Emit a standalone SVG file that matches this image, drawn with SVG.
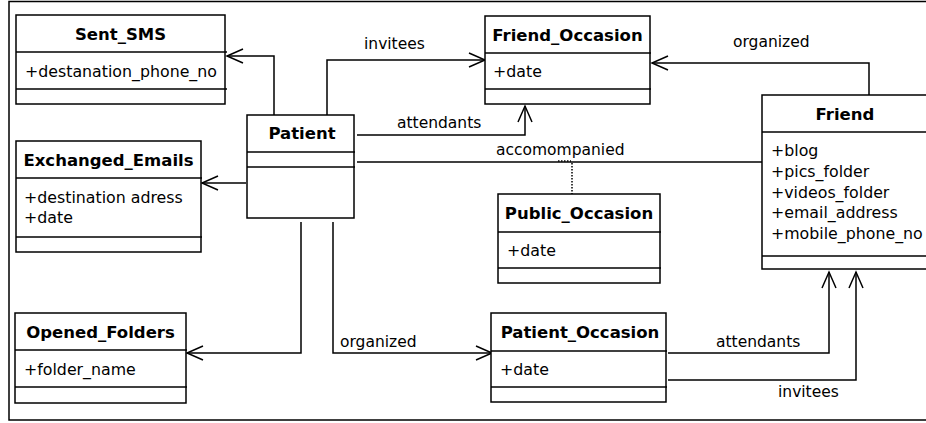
<svg xmlns="http://www.w3.org/2000/svg" width="926" height="423" viewBox="0 0 926 423">
  <style>
    .box { fill: #ffffff; stroke: #000000; stroke-width: 1.5; }
    .div { stroke: #000000; stroke-width: 1.5; }
    .title { font-family: "DejaVu Sans", Verdana, sans-serif; font-size: 16.5px; font-weight: bold; text-anchor: middle; fill: #000000; }
    .attr { font-family: "DejaVu Sans", Verdana, sans-serif; font-size: 15.8px; fill: #000000; }
    .label { font-family: "DejaVu Sans", Verdana, sans-serif; font-size: 15.5px; fill: #000000; }
    .edge { fill: none; stroke: #000000; stroke-width: 1.5; }
    .nav { marker-end: url(#open); }
    .dot { fill: none; stroke: #000000; stroke-width: 1.5; stroke-dasharray: 1.5 1.5; }
  </style>
  <defs>
    <marker id="open" markerUnits="userSpaceOnUse" markerWidth="18" markerHeight="16" refX="16" refY="7" orient="auto" overflow="visible">
      <path d="M0,0 L16,7 L0,14" fill="none" stroke="#000000" stroke-width="1.5"/>
    </marker>
  </defs>

  <!-- frame -->
  <rect x="9" y="1.5" width="930" height="418.5" fill="#ffffff" stroke="#000000" stroke-width="1.5"/>

  <!-- associations -->
  <g id="connectors">
    <path class="edge nav" d="M274,115 V56 H227"/>
    <path class="edge nav" d="M246,183 H202"/>
    <path class="edge nav" d="M301,222 V353 H187"/>
    <path class="edge nav" d="M333,222 V353 H492"/>
    <path class="edge nav" d="M327,115 V60 H485"/>
    <path class="edge nav" d="M357,135 H525 V106"/>
    <path class="edge" d="M357,162 H762"/>
    <path class="dot" d="M572,163 V194"/>
    <path class="dot" d="M558,161 H571"/>
    <path class="edge nav" d="M869,95 V63 H652"/>
    <path class="edge nav" d="M668,353 H829 V272"/>
    <path class="edge nav" d="M668,380 H856 V272"/>
    <text class="label" x="364" y="49">invitees</text>
    <text class="label" x="397" y="128">attendants</text>
    <text class="label" x="496" y="155">accomompanied</text>
    <text class="label" x="733" y="47">organized</text>
    <text class="label" x="340" y="347">organized</text>
    <text class="label" x="716" y="347">attendants</text>
    <text class="label" x="778" y="397">invitees</text>
  </g>

  <g id="Sent_SMS">
    <rect class="box" x="16" y="15" width="209" height="89"/>
    <line class="div" x1="16" y1="52" x2="227" y2="52"/>
    <line class="div" x1="16" y1="89" x2="227" y2="89"/>
    <text class="title" x="120.5" y="40">Sent_SMS</text>
    <text class="attr" x="25" y="77">+destanation_phone_no</text>
  </g>

  <g id="Exchanged_Emails">
    <rect class="box" x="16" y="141" width="185" height="111"/>
    <line class="div" x1="16" y1="178" x2="202" y2="178"/>
    <line class="div" x1="16" y1="237" x2="202" y2="237"/>
    <text class="title" x="108.5" y="166">Exchanged_Emails</text>
    <text class="attr" x="24" y="203">+destination adress</text>
    <text class="attr" x="24" y="223">+date</text>
  </g>

  <g id="Opened_Folders">
    <rect class="box" x="15" y="313" width="171" height="90"/>
    <line class="div" x1="15" y1="350" x2="187" y2="350"/>
    <line class="div" x1="15" y1="387" x2="187" y2="387"/>
    <text class="title" x="100.5" y="338">Opened_Folders</text>
    <text class="attr" x="24" y="375">+folder_name</text>
  </g>

  <g id="Patient">
    <rect class="box" x="247" y="115" width="107" height="103"/>
    <line class="div" x1="247" y1="152" x2="355" y2="152"/>
    <line class="div" x1="247" y1="167" x2="355" y2="167"/>
    <text class="title" x="302" y="139">Patient</text>
  </g>

  <g id="Friend_Occasion">
    <rect class="box" x="485" y="16" width="165" height="88"/>
    <line class="div" x1="485" y1="53" x2="651" y2="53"/>
    <line class="div" x1="485" y1="89" x2="651" y2="89"/>
    <text class="title" x="567.5" y="41">Friend_Occasion</text>
    <text class="attr" x="493" y="77">+date</text>
  </g>

  <g id="Public_Occasion">
    <rect class="box" x="498" y="194" width="162" height="89"/>
    <line class="div" x1="498" y1="232" x2="661" y2="232"/>
    <line class="div" x1="498" y1="268" x2="661" y2="268"/>
    <text class="title" x="579" y="219">Public_Occasion</text>
    <text class="attr" x="507" y="256">+date</text>
  </g>

  <g id="Patient_Occasion">
    <rect class="box" x="491" y="313" width="175" height="89"/>
    <line class="div" x1="491" y1="351" x2="667" y2="351"/>
    <line class="div" x1="491" y1="387" x2="667" y2="387"/>
    <text class="title" x="580" y="338">Patient_Occasion</text>
    <text class="attr" x="500" y="375">+date</text>
  </g>

  <g id="Friend">
    <rect class="box" x="762" y="95" width="166" height="174"/>
    <line class="div" x1="762" y1="132" x2="930" y2="132"/>
    <line class="div" x1="762" y1="256" x2="930" y2="256"/>
    <text class="title" x="845" y="120">Friend</text>
    <text class="attr" x="771" y="156">+blog</text>
    <text class="attr" x="771" y="177">+pics_folder</text>
    <text class="attr" x="771" y="198">+videos_folder</text>
    <text class="attr" x="771" y="218">+email_address</text>
    <text class="attr" x="771" y="239">+mobile_phone_no</text>
  </g>
</svg>
